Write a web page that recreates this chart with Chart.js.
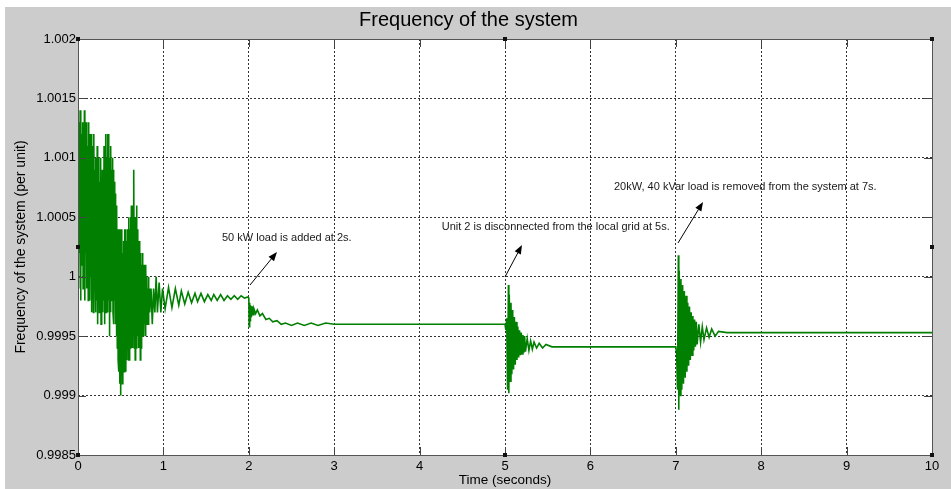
<!DOCTYPE html>
<html>
<head>
<meta charset="utf-8">
<title>Frequency of the system</title>
<script src="https://cdn.jsdelivr.net/npm/chart.js@4.4.1/dist/chart.umd.min.js"></script>
<style>
  html, body { margin: 0; padding: 0; background: #ffffff; }
  #wrap { position: absolute; left: 5px; top: 7px; width: 946px; height: 482px; }
</style>
</head>
<body>
<div id="wrap"><canvas id="freqChart" width="946" height="482"></canvas></div>
<script>
// Frequency trace, split by event
const startupTime = [
  0, 0.005, 0.01, 0.015, 0.02, 0.025, 0.03, 0.035, 0.04, 0.045,
  0.05, 0.055, 0.06, 0.065, 0.07, 0.075, 0.08, 0.085, 0.09, 0.095,
  0.10, 0.105, 0.11, 0.115, 0.12, 0.125, 0.13, 0.135, 0.14, 0.145,
  0.15, 0.155, 0.16, 0.165, 0.17, 0.175, 0.18, 0.185, 0.19, 0.195,
  0.20, 0.205, 0.21, 0.215, 0.22, 0.225, 0.23, 0.235, 0.24, 0.245,
  0.25, 0.255, 0.26, 0.265, 0.27, 0.275, 0.28, 0.285, 0.29, 0.295,
  0.30, 0.305, 0.31, 0.315, 0.32, 0.325, 0.33, 0.335, 0.34, 0.345,
  0.35, 0.355, 0.36, 0.365, 0.37, 0.375, 0.38, 0.385, 0.39, 0.395,
  0.40, 0.405, 0.41, 0.415, 0.42, 0.425, 0.43, 0.435, 0.44, 0.445,
  0.45, 0.455, 0.46, 0.465, 0.47, 0.475, 0.48, 0.485, 0.49, 0.495,
  0.50, 0.505, 0.51, 0.515, 0.52, 0.525, 0.53, 0.535, 0.54, 0.545,
  0.55, 0.555, 0.56, 0.565, 0.57, 0.575, 0.58, 0.585, 0.59, 0.595,
  0.60, 0.605, 0.61, 0.615, 0.62, 0.625, 0.63, 0.635, 0.64, 0.645,
  0.65, 0.655, 0.66, 0.665, 0.67, 0.675, 0.68, 0.685, 0.69, 0.695,
  0.70, 0.705, 0.71, 0.715, 0.72, 0.725, 0.73, 0.735, 0.74, 0.745,
  0.75, 0.755, 0.76, 0.765, 0.77, 0.775, 0.78, 0.785, 0.79, 0.795,
  0.80, 0.805, 0.81, 0.815, 0.82, 0.825, 0.83, 0.835, 0.84,
  0.855, 0.87, 0.885, 0.90, 0.915, 0.93, 0.95, 0.97, 0.99
];
const startupFreq = [
  1.0000, 1.0012, 0.9999, 1.0013, 1.0002, 1.0014, 0.9998, 1.0013, 1.0001, 1.0012,
  1.0003, 1.0013, 0.9999, 1.0012, 1.0001, 1.0014, 0.9998, 1.0011, 1.0002, 1.0013,
  0.9999, 1.0012, 1.0003, 1.0011, 0.9998, 1.0013, 1.0001, 1.0012, 0.9998, 1.0010,
  1.0000, 1.0012, 0.9997, 1.0010, 1.0001, 1.0011, 0.9997, 1.0012, 0.9999, 1.0009,
  1.0001, 1.0010, 0.9997, 1.0009, 0.9998, 1.0011, 0.9996, 1.0008, 0.9999, 1.0010,
  0.9997, 1.0008, 0.9999, 1.0010, 0.9996, 1.0007, 0.9998, 1.0009, 0.9997, 1.0007,
  0.9998, 1.0011, 0.9996, 1.0009, 0.9999, 1.0012, 0.9997, 1.0010, 0.9999, 1.0012,
  0.9997, 1.0012, 0.9998, 1.0008, 0.9995, 1.0010, 0.9997, 1.0011, 1.0000, 1.0009,
  0.9998, 1.0010, 0.9997, 1.0009, 0.9996, 1.0008, 0.9998, 1.0007, 0.9996, 1.0006,
  0.9995, 1.0006, 0.9994, 1.0004, 0.9993, 1.0004, 0.9992, 1.0003, 0.9991, 1.0004,
  0.9990, 1.0003, 0.9992, 1.0004, 0.9991, 1.0002, 0.9993, 1.0003, 0.9992, 1.0004,
  0.9993, 1.0004, 0.9992, 1.0002, 0.9993, 1.0003, 0.9994, 1.0004, 0.9993, 1.0005,
  0.9993, 1.0004, 0.9994, 1.0005, 0.9995, 1.0006, 0.9994, 1.0004, 0.9994, 1.0006,
  0.9995, 1.0009, 0.9994, 1.0005, 0.9993, 1.0005, 0.9994, 1.0006, 0.9995, 1.0004,
  0.9995, 1.0003, 0.9994, 1.0003, 0.9994, 1.0002, 0.9993, 1.0002, 0.9994, 1.0001,
  0.9995, 1.0002, 0.9996, 1.0001, 0.9995, 1.0001, 0.9996, 1.0000, 0.9995, 1.0001,
  0.9996, 1.0000, 0.9996, 0.9999, 0.9996, 1.0000, 0.9997, 0.9999, 0.9997,
  0.9999, 0.9996, 0.9999, 0.9997, 1.0000, 0.9997, 0.99995, 0.9997, 0.9999
];

const rippleTime = [
  1.02, 1.06, 1.10, 1.14, 1.18, 1.21, 1.25, 1.29, 1.33, 1.37, 1.40, 1.44, 1.48, 1.52,
  1.56, 1.59, 1.63, 1.67, 1.71, 1.75, 1.79, 1.83, 1.87, 1.91, 1.95, 1.99
];
const rippleFreq = [
  0.99973, 0.99991, 0.99974, 0.99990, 0.99976, 0.99988, 0.99977, 0.99987, 0.99978, 0.99986,
  0.99979, 0.99986, 0.99979, 0.99985, 0.99980, 0.99985, 0.99980, 0.99985, 0.99980, 0.99984,
  0.99981, 0.99984, 0.99981, 0.99984, 0.99982, 0.99983
];

// 50 kW load added at 2 s
const loadAddTime = [
  2.00, 2.005, 2.01, 2.015, 2.02, 2.03, 2.04, 2.05, 2.06, 2.08, 2.10, 2.13, 2.16, 2.20,
  2.24, 2.28, 2.33, 2.38, 2.43, 2.50, 2.57, 2.65, 2.73, 2.81, 2.90, 3.00, 3.10, 3.30, 5.00
];
const loadAddFreq = [
  0.99982, 0.99958, 0.99978, 0.99963, 0.99976, 0.99966, 0.99975, 0.99968, 0.99973, 0.99969,
  0.99972, 0.99967, 0.99969, 0.99964, 0.99965, 0.99962, 0.99963, 0.99960, 0.99961, 0.99959,
  0.99961, 0.99959, 0.99961, 0.99959, 0.99961, 0.99960, 0.99960, 0.99960, 0.99960
];

// Unit 2 disconnected at 5 s
const unitTripTime = [
  5.01, 5.02, 5.03, 5.04, 5.045, 5.05, 5.06, 5.07, 5.08, 5.09, 5.10, 5.11, 5.12, 5.13,
  5.14, 5.15, 5.16, 5.17, 5.18, 5.19, 5.20, 5.21, 5.22, 5.23, 5.24, 5.26, 5.28, 5.30,
  5.32, 5.34, 5.37, 5.40, 5.44, 5.48, 5.55, 7.00
];
const unitTripFreq = [
  0.99955, 0.99965, 0.99905, 0.99993, 0.99902, 0.99985, 0.99912, 0.99978, 0.99918, 0.99972,
  0.99922, 0.99966, 0.99926, 0.99962, 0.99930, 0.99958, 0.99932, 0.99955, 0.99934, 0.99953,
  0.99935, 0.99951, 0.99936, 0.99950, 0.99937, 0.99948, 0.99938, 0.99946, 0.99939, 0.99945,
  0.99940, 0.99944, 0.99940, 0.99943, 0.99941, 0.99941
];

// 20 kW / 40 kVar load removed at 7 s
const loadDropTime = [
  7.01, 7.02, 7.03, 7.035, 7.04, 7.05, 7.06, 7.07, 7.08, 7.09, 7.10, 7.11, 7.12, 7.13,
  7.14, 7.15, 7.16, 7.17, 7.18, 7.19, 7.20, 7.21, 7.22, 7.23, 7.24, 7.25, 7.27, 7.29,
  7.31, 7.33, 7.36, 7.39, 7.42, 7.46, 7.50, 7.60, 10.00
];
const loadDropFreq = [
  0.99935, 0.99905, 1.00018, 0.99888, 1.00005, 0.99900, 0.99998, 0.99905, 0.99993, 0.99910,
  0.99988, 0.99915, 0.99984, 0.99920, 0.99978, 0.99925, 0.99975, 0.99930, 0.99970, 0.99934,
  0.99967, 0.99938, 0.99964, 0.99941, 0.99962, 0.99943, 0.99960, 0.99945, 0.99958, 0.99947,
  0.99957, 0.99949, 0.99956, 0.99950, 0.99954, 0.99953, 0.99953
];

const xTicks = [0, 1, 2, 3, 4, 5, 6, 7, 8, 9, 10];
const yTicks = [0.9985, 0.999, 0.9995, 1, 1.0005, 1.001, 1.0015, 1.002];

const notes = [
  { text: "50 kW load is added at 2s.", x: 1.686, y: 1.000326, from: [2.014, 0.99993], to: [2.33, 1.000208] },
  { text: "Unit 2 is disconnected from the local grid at 5s.", x: 4.259, y: 1.000418, from: [5.0, 0.999998], to: [5.199, 1.000267] },
  { text: "20kW, 40 kVar load is removed from the system at 7s.", x: 6.276, y: 1.000755, from: [7.026, 1.000284], to: [7.319, 1.000629] }
];

const timeSec = [].concat(startupTime, rippleTime, loadAddTime, unitTripTime, loadDropTime);
const freqPu = [].concat(startupFreq, rippleFreq, loadAddFreq, unitTripFreq, loadDropFreq);
const points = timeSec.map((t, i) => ({ x: t, y: freqPu[i] }));

const FONT = "'Liberation Sans', Arial, sans-serif";

/**
 * MATLAB style figure: grey frame, white axes, inner ticks, box, handles and notes
 */
const matlabAxes = {
  id: "matlabAxes",
  beforeDraw(chart) {
    const { ctx, chartArea: a } = chart;
    ctx.save();
    ctx.fillStyle = "#cccccc";
    ctx.fillRect(0, 0, chart.width, chart.height);
    ctx.fillStyle = "#ffffff";
    ctx.fillRect(a.left, a.top, a.right - a.left, a.bottom - a.top);
    ctx.restore();
  },
  afterDraw(chart) {
    const { ctx, chartArea: a, scales } = chart;
    const xs = scales.x, ys = scales.y;
    ctx.save();

    // inner tick marks
    ctx.strokeStyle = "#444444";
    ctx.lineWidth = 1;
    ctx.beginPath();
    xTicks.forEach(v => {
      const px = Math.round(xs.getPixelForValue(v)) + 0.5;
      ctx.moveTo(px, a.bottom); ctx.lineTo(px, a.bottom - 8);
      ctx.moveTo(px, a.top); ctx.lineTo(px, a.top + 8);
    });
    yTicks.forEach(v => {
      const py = Math.round(ys.getPixelForValue(v)) + 0.5;
      ctx.moveTo(a.left, py); ctx.lineTo(a.left + 8, py);
      ctx.moveTo(a.right, py); ctx.lineTo(a.right - 8, py);
    });
    ctx.stroke();

    // axes box
    ctx.strokeStyle = "#555555";
    ctx.strokeRect(Math.round(a.left) + 0.5, Math.round(a.top) + 0.5,
      Math.round(a.right - a.left), Math.round(a.bottom - a.top));

    // selection handles
    ctx.fillStyle = "#111111";
    const midX = (a.left + a.right) / 2, midY = (a.top + a.bottom) / 2;
    [[a.left, a.top], [midX, a.top], [a.right, a.top], [a.left, midY], [a.right, midY],
     [a.left, a.bottom], [midX, a.bottom], [a.right, a.bottom]].forEach(([hx, hy]) => {
      ctx.fillRect(Math.round(hx) - 2, Math.round(hy) - 2, 4, 4);
    });

    // annotations
    ctx.font = "11px " + FONT;
    ctx.textAlign = "left";
    ctx.textBaseline = "middle";
    notes.forEach(n => {
      ctx.fillStyle = "#1a1a1a";
      ctx.fillText(n.text, xs.getPixelForValue(n.x), ys.getPixelForValue(n.y));

      const x0 = xs.getPixelForValue(n.from[0]), y0 = ys.getPixelForValue(n.from[1]);
      const x1 = xs.getPixelForValue(n.to[0]), y1 = ys.getPixelForValue(n.to[1]);
      const ang = Math.atan2(y1 - y0, x1 - x0);
      const len = 9, half = 3.5;
      const bx = x1 - len * Math.cos(ang), by = y1 - len * Math.sin(ang);

      ctx.strokeStyle = "#000000";
      ctx.lineWidth = 1;
      ctx.beginPath();
      ctx.moveTo(x0, y0);
      ctx.lineTo(bx, by);
      ctx.stroke();

      ctx.fillStyle = "#000000";
      ctx.beginPath();
      ctx.moveTo(x1, y1);
      ctx.lineTo(bx + half * Math.sin(ang), by - half * Math.cos(ang));
      ctx.lineTo(bx - half * Math.sin(ang), by + half * Math.cos(ang));
      ctx.closePath();
      ctx.fill();
    });

    ctx.restore();
  }
};

const ctx = document.getElementById("freqChart").getContext("2d");
new Chart(ctx, {
  type: "line",
  data: {
    datasets: [{
      label: "Frequency",
      data: points,
      borderColor: "#007f00",
      borderWidth: 1.6,
      pointRadius: 0,
      tension: 0,
      fill: false
    }]
  },
  options: {
    responsive: false,
    animation: false,
    devicePixelRatio: 1,
    layout: { padding: { left: 0, right: 19, top: 0, bottom: 0 } },
    plugins: {
      legend: { display: false },
      tooltip: { enabled: false },
      title: {
        display: true,
        text: "Frequency of the system",
        color: "#000000",
        font: { family: FONT, size: 20, weight: "normal" },
        padding: { top: 1, bottom: 7 }
      }
    },
    scales: {
      x: {
        type: "linear",
        min: 0,
        max: 10,
        afterBuildTicks: s => { s.ticks = xTicks.map(v => ({ value: v })); },
        afterFit: s => { s.height = 34; },
        grid: { color: "#333333", lineWidth: 1, drawTicks: false },
        border: { display: false, dash: [2, 2] },
        ticks: { color: "#000000", padding: 4, maxRotation: 0, font: { family: FONT, size: 13 } },
        title: {
          display: true,
          text: "Time (seconds)",
          color: "#000000",
          font: { family: FONT, size: 13.5 },
          padding: { top: 0, bottom: 1 }
        }
      },
      y: {
        type: "linear",
        min: 0.9985,
        max: 1.002,
        afterBuildTicks: s => { s.ticks = yTicks.map(v => ({ value: v })); },
        afterFit: s => { s.width = 73; },
        grid: { color: "#333333", lineWidth: 1, drawTicks: false },
        border: { display: false, dash: [2, 2] },
        ticks: {
          color: "#000000",
          padding: 2,
          font: { family: FONT, size: 13 },
          callback: v => String(Number(v.toFixed(4)))
        },
        title: {
          display: true,
          text: "Frequency of the system (per unit)",
          color: "#000000",
          font: { family: FONT, size: 14 },
          padding: { top: 8, bottom: 0 }
        }
      }
    }
  },
  plugins: [matlabAxes]
});
</script>
</body>
</html>
